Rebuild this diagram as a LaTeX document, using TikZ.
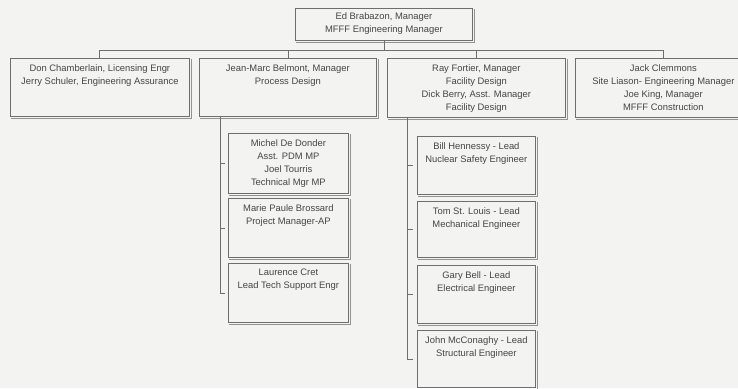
\documentclass[tikz,border=0pt]{standalone}
\usepackage{fontspec}
\setmainfont{Liberation Sans}
\definecolor{bg}{HTML}{F3F3F1}
\definecolor{ln}{HTML}{6E6E6E}
\definecolor{tx}{HTML}{454545}
\newcommand{\orgtxt}[4]{\parbox[t][#2][t]{#1}{\centering\vspace*{#3}#4}}
\tikzset{
  orgbox/.style={draw=ln, line width=0.75pt, inner sep=0pt, anchor=north west, text=tx,
    font=\fontsize{9.4}{13}\selectfont},
  link/.style={draw=ln, line width=0.75pt},
  shade/.style={draw=ln!75, line width=0.6pt}
}
\begin{document}
\begin{tikzpicture}[x=1pt,y=-1pt]
\fill[bg] (0,0) rectangle (738,388);
\clip (0,0) rectangle (738,388);
% top
\node[orgbox] (ed) at (295,8) {\orgtxt{177pt}{32pt}{4pt}{Ed Brabazon, Manager\\MFFF Engineering Manager}};
% first row
\node[orgbox] (don) at (10,58) {\orgtxt{179pt}{58pt}{6pt}{Don Chamberlain, Licensing Engr\\Jerry Schuler, Engineering Assurance}};
\node[orgbox] (jean) at (199,58) {\orgtxt{177pt}{58pt}{6pt}{Jean-Marc Belmont, Manager\\Process Design}};
\node[orgbox] (ray) at (387,58) {\orgtxt{178pt}{59pt}{6pt}{Ray Fortier, Manager\\Facility Design\\Dick Berry, Asst. Manager\\Facility Design}};
\node[orgbox] (jack) at (575,58) {\orgtxt{176pt}{59pt}{6pt}{Jack Clemmons\\Site Liason- Engineering Manager\\Joe King, Manager\\MFFF Construction}};
% left children
\node[orgbox] (michel) at (228,133) {\orgtxt{120pt}{60pt}{6pt}{Michel De Donder\\Asst. PDM MP\\Joel Tourris\\Technical Mgr MP}};
\node[orgbox] (marie) at (228,198) {\orgtxt{120pt}{59pt}{6pt}{Marie Paule Brossard\\Project Manager-AP}};
\node[orgbox] (laur) at (228,263) {\orgtxt{120pt}{59pt}{6pt}{Laurence Cret\\Lead Tech Support Engr}};
% right children
\node[orgbox] (bill) at (417,136) {\orgtxt{118pt}{58pt}{6pt}{Bill Hennessy - Lead\\Nuclear Safety Engineer}};
\node[orgbox] (tom) at (417,201) {\orgtxt{118pt}{56pt}{6pt}{Tom St. Louis - Lead\\Mechanical Engineer}};
\node[orgbox] (gary) at (417,265) {\orgtxt{118pt}{58pt}{6pt}{Gary Bell - Lead\\Electrical Engineer}};
\node[orgbox] (john) at (417,330) {\orgtxt{118pt}{57pt}{6pt}{John McConaghy - Lead\\Structural Engineer}};
% box bottom and right shadows
\foreach \n in {ed,don,jean,ray,jack,michel,marie,laur,bill,tom,gary,john}{
  \draw[shade] ([xshift=1pt,yshift=-1.6pt]\n.south west) -- ([xshift=1.6pt,yshift=-1.6pt]\n.south east)
    -- ([xshift=1.6pt,yshift=-1pt]\n.north east);
}
% bus
\coordinate (busL) at (99,50);
\coordinate (busR) at (663,50);
\draw[link] (ed.south) -- (ed.south |- busL);
\draw[link] (busL) -- (busR);
\draw[link] (busL) -- (don.north -| busL);
\draw[link] (jean.north |- busL) -- (jean.north);
\draw[link] (ray.north |- busL) -- (ray.north);
\draw[link] (busR) -- (jack.north -| busR);
% left branch
\coordinate (lv) at (220,116);
\draw[link, shorten >=3pt] (lv) |- (laur.west);
\draw[link, shorten >=3pt] (michel.west -| lv) -- (michel.west);
\draw[link, shorten >=3pt] (marie.west -| lv) -- (marie.west);
% right branch
\coordinate (rv) at (407,117);
\draw[link, shorten >=4pt] (rv) |- (john.west);
\draw[link, shorten >=4pt] (bill.west -| rv) -- (bill.west);
\draw[link, shorten >=4pt] (tom.west -| rv) -- (tom.west);
\draw[link, shorten >=4pt] (gary.west -| rv) -- (gary.west);
\end{tikzpicture}
\end{document}
